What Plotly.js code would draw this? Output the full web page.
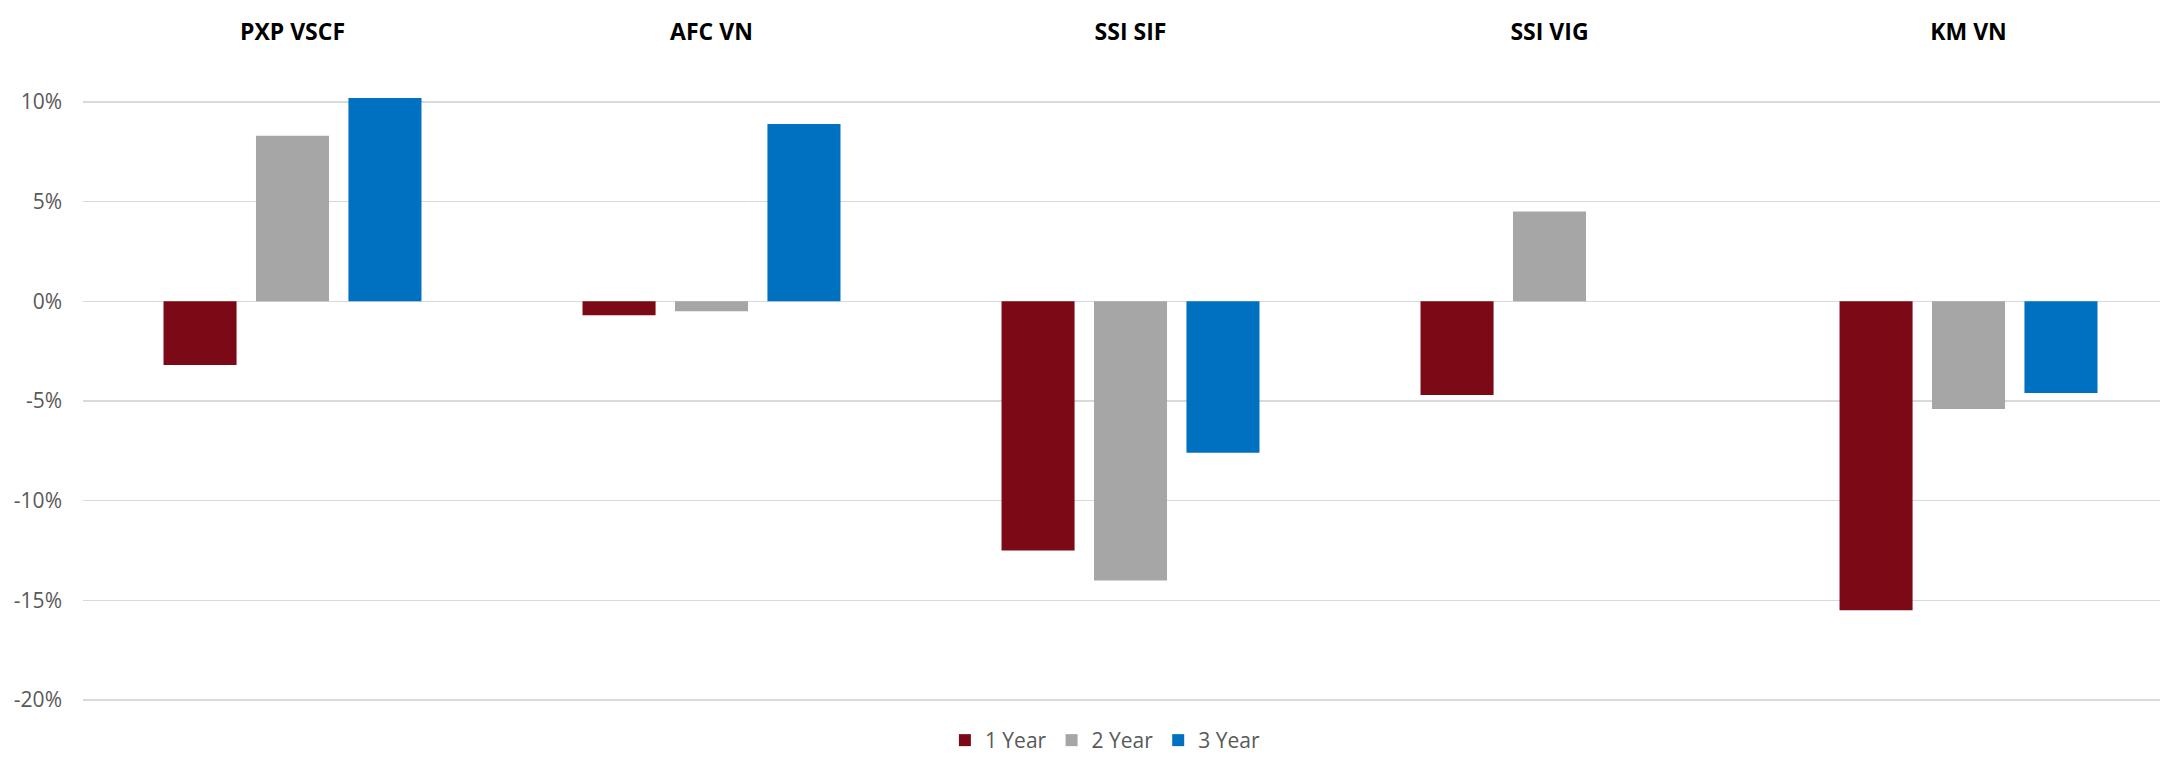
<!DOCTYPE html>
<html>
<head>
<meta charset="utf-8">
<script src="https://cdn.plot.ly/plotly-3.0.1.min.js"></script>
<style>html,body{margin:0;padding:0;background:#fff;}#chart{width:2160px;height:761px;}</style>
</head>
<body>
<div id="chart"></div>
<script>
const categories = ["PXP VSCF", "AFC VN", "SSI SIF", "SSI VIG", "KM VN"];
const seriesNames = ["1 Year", "2 Year", "3 Year"];
const oneYear = [-3.2, -0.7, -12.5, -4.7, -15.5];
const twoYear = [8.3, -0.5, -14.0, 4.5, -5.4];
const threeYear = [10.2, 8.9, -7.6, null, -4.6];
const yTickVals = [10, 5, 0, -5, -10, -15, -20];
const colors = ["#7B0A16", "#A6A6A6", "#0070C0"];

const allSeries = [oneYear, twoYear, threeYear];
const traces = allSeries.map((vals, i) => ({
  type: "bar",
  name: seriesNames[i],
  x: categories,
  y: vals,
  marker: {color: colors[i], line: {width: 0}},
  hoverinfo: "x+y+name"
}));

const layout = {
  width: 2160,
  height: 761,
  margin: {l: 83, r: 0, t: 96, b: 55},
  paper_bgcolor: "#ffffff",
  plot_bgcolor: "#ffffff",
  barmode: "group",
  bargap: 0.338,
  bargroupgap: 0.21,
  font: {family: "Open Sans, sans-serif", color: "#595959"},
  showlegend: true,
  legend: {
    orientation: "h",
    xref: "paper",
    x: 0.492,
    xanchor: "center",
    yref: "container",
    y: -0.012,
    yanchor: "bottom",
    font: {size: 21, color: "#595959", family: "Open Sans, sans-serif"},
    itemwidth: 30,
    traceorder: "normal"
  },
  xaxis: {
    type: "category",
    side: "top",
    range: [-0.5, 4.457],
    showgrid: false,
    zeroline: false,
    showline: false,
    ticks: "",
    ticklabelstandoff: 50,
    tickfont: {family: "Open Sans, sans-serif", size: 23, color: "#000000", weight: "bold"},
    fixedrange: true
  },
  yaxis: {
    range: [-20.3, 10.3],
    tickvals: yTickVals,
    ticktext: yTickVals.map(v => v + "%"),
    showgrid: true,
    gridcolor: "#D9D9D9",
    gridwidth: 1.5,
    zeroline: true,
    zerolinecolor: "#D9D9D9",
    zerolinewidth: 1.5,
    showline: false,
    ticks: "",
    ticklabelstandoff: 20,
    tickfont: {family: "Open Sans, sans-serif", size: 21, color: "#595959"},
    fixedrange: true
  }
};

Plotly.newPlot("chart", traces, layout, {displayModeBar: false, staticPlot: true});
</script>
</body>
</html>
